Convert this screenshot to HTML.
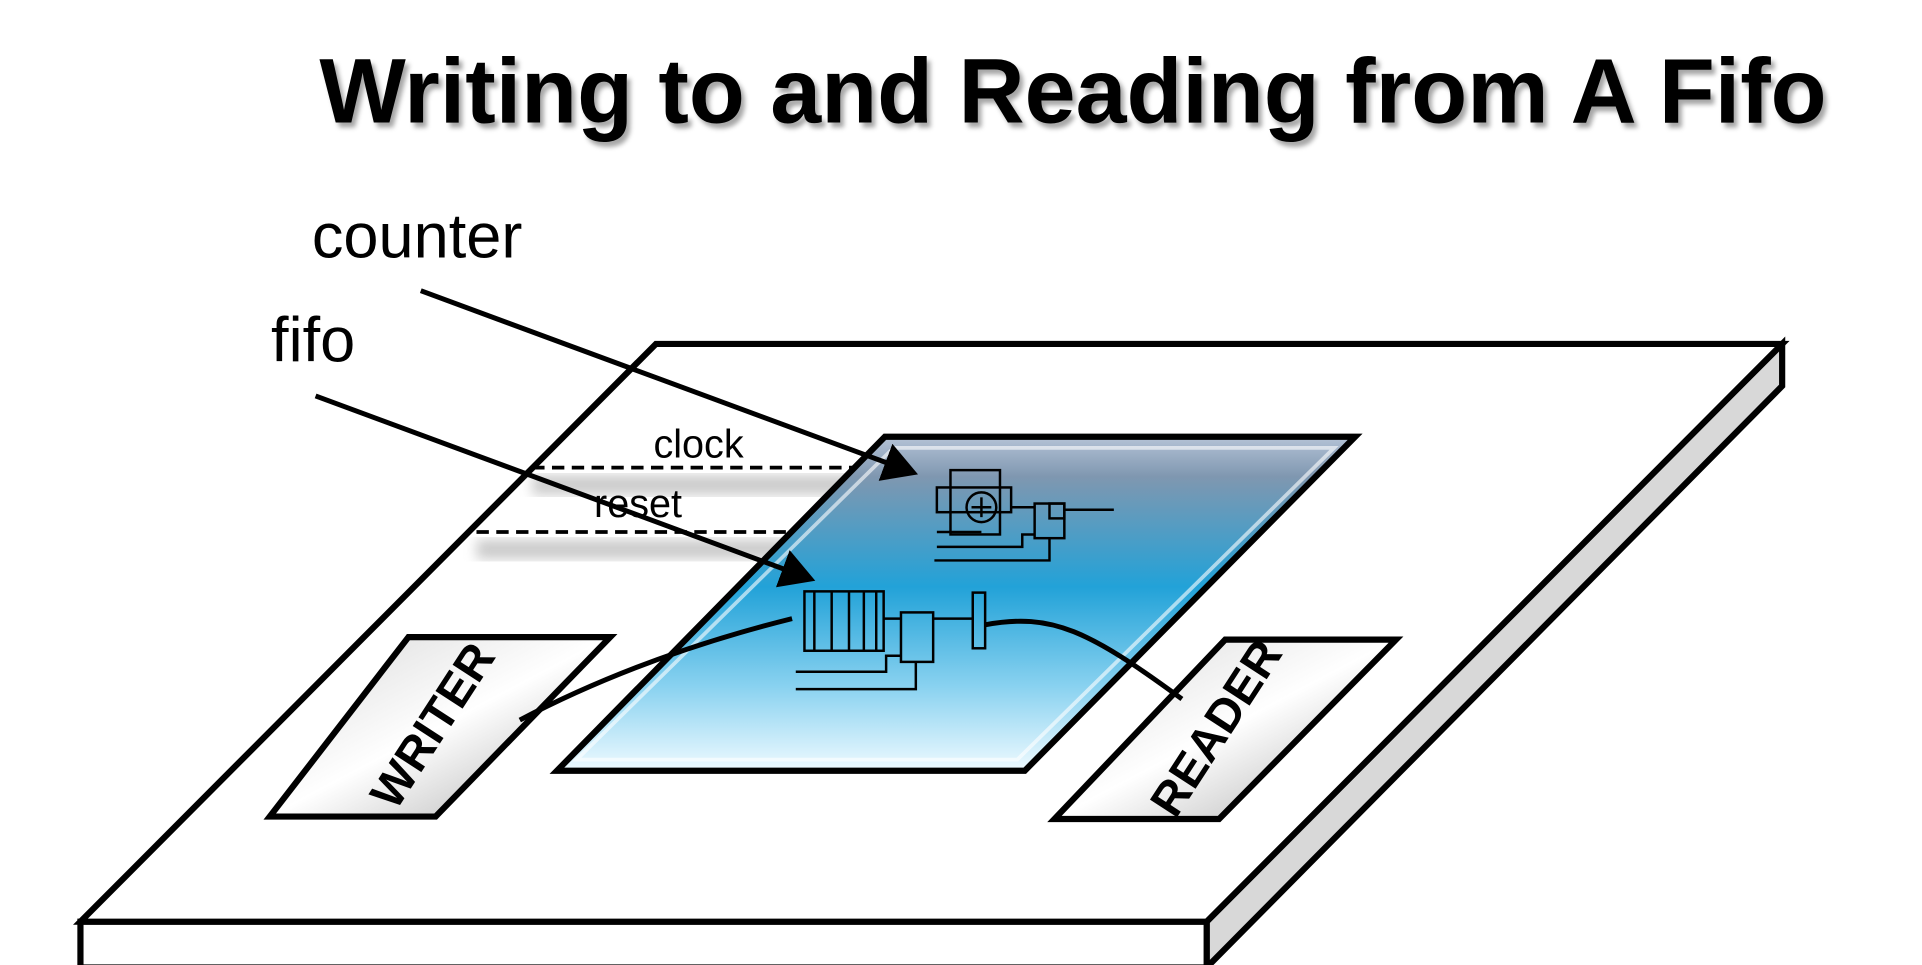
<!DOCTYPE html>
<html><head><meta charset="utf-8"><style>
html,body{margin:0;padding:0;background:#fff;}
svg{display:block;}
text{font-family:"Liberation Sans",Arial,sans-serif;}
</style></head><body>
<svg width="1922" height="965" viewBox="0 0 1553 780" preserveAspectRatio="none" xmlns="http://www.w3.org/2000/svg">
<defs>
<linearGradient id="blue" x1="0" y1="0" x2="0" y2="1">
<stop offset="0" stop-color="#b4c2d6"/>
<stop offset="0.12" stop-color="#7f97b0"/>
<stop offset="0.45" stop-color="#22a2d8"/>
<stop offset="0.75" stop-color="#8ad2f0"/>
<stop offset="1" stop-color="#eefaff"/>
</linearGradient>
<linearGradient id="btn" x1="0" y1="0" x2="1" y2="1">
<stop offset="0" stop-color="#d8d8d8"/>
<stop offset="0.5" stop-color="#ffffff"/>
<stop offset="1" stop-color="#a8a8a8"/>
</linearGradient>
<filter id="blur"><feGaussianBlur stdDeviation="5"/></filter>
<filter id="sh"><feDropShadow dx="3" dy="4" stdDeviation="2" flood-color="#000" flood-opacity="0.35"/></filter>
<marker id="ah" markerWidth="8" markerHeight="8" refX="6" refY="4" orient="auto" markerUnits="strokeWidth"><path d="M0,0 L7,4 L0,8 Z" fill="#000"/></marker>
</defs>
<text x="867" y="99" font-size="74" font-weight="bold" text-anchor="middle" filter="url(#sh)">Writing to and Reading from A Fifo</text>
<text x="252" y="208" font-size="51">counter</text>
<text x="219" y="292" font-size="51">fifo</text>
<!-- board -->
<polygon points="1440,278 1440,312 975,782 975,745" fill="#d8d8d8" stroke="#000" stroke-width="5" stroke-linejoin="miter"/>
<rect x="65" y="745" width="910" height="37" fill="#fff" stroke="#000" stroke-width="5"/>
<polygon points="530,278 1440,278 975,745 65,745" fill="#fff" stroke="#000" stroke-width="5"/>
<!-- shadows of dashes -->
<rect x="430" y="384" width="270" height="16" fill="#999" opacity="0.5" filter="url(#blur)"/>
<rect x="385" y="436" width="255" height="16" fill="#999" opacity="0.5" filter="url(#blur)"/>
<line x1="430" y1="378" x2="700" y2="378" stroke="#000" stroke-width="3" stroke-dasharray="10,6"/>
<line x1="385" y1="430" x2="640" y2="430" stroke="#000" stroke-width="3" stroke-dasharray="10,6"/>
<text x="528" y="370" font-size="32">clock</text>
<text x="480" y="418" font-size="32">reset</text>
<!-- blue panel -->
<polygon points="715,353 1095,353 828,623 450,623" fill="url(#blue)" stroke="#000" stroke-width="5"/>
<polygon points="722,362 1078,362 822,614 466,614" fill="none" stroke="#fff" stroke-width="3" opacity="0.6"/>
<!-- writer / reader -->
<polygon points="330,515 493,515 352,660 218,660" fill="url(#btn)" stroke="#000" stroke-width="5"/>
<polygon points="990,517 1128,517 985,662 852,662" fill="url(#btn)" stroke="#000" stroke-width="5"/>
<text x="352" y="598" font-size="38" font-weight="bold" text-anchor="middle" transform="rotate(-57 352 588)">WRITER</text>
<text x="985" y="600" font-size="38" font-weight="bold" text-anchor="middle" transform="rotate(-57 985 590)">READER</text>
<!-- counter circuit -->
<g fill="none" stroke="#000" stroke-width="2">
<rect x="768" y="380" width="40" height="52"/>
<rect x="757" y="394" width="60" height="20"/>
<circle cx="793" cy="410" r="12"/>
<line x1="793" y1="402" x2="793" y2="418"/><line x1="785" y1="410" x2="801" y2="410"/>
<rect x="836" y="407" width="24" height="28"/>
<rect x="848" y="407" width="12" height="12"/>
<line x1="860" y1="412" x2="900" y2="412"/>
<line x1="817" y1="410" x2="836" y2="410"/>
<line x1="757" y1="430" x2="793" y2="430"/>
<path d="M757,442 L826,442 L826,432 L836,432"/>
<path d="M755,453 L848,453 L848,435"/>
</g>
<!-- fifo circuit -->
<g fill="none" stroke="#000" stroke-width="2">
<rect x="650" y="478" width="64" height="48"/>
<line x1="658" y1="478" x2="658" y2="526"/><line x1="672" y1="478" x2="672" y2="526"/><line x1="686" y1="478" x2="686" y2="526"/><line x1="698" y1="478" x2="698" y2="526"/><line x1="708" y1="478" x2="708" y2="526"/>
<rect x="728" y="495" width="26" height="40"/>
<line x1="714" y1="500" x2="728" y2="500"/>
<line x1="754" y1="500" x2="786" y2="500"/>
<rect x="786" y="479" width="10" height="45"/>
<path d="M643,543 L716,543 L716,530 L728,530"/>
<path d="M643,557 L740,557 L740,535"/>
</g>
<path d="M796,505 C850,495 880,510 955,565" fill="none" stroke="#000" stroke-width="4"/>
<path d="M420,582 C500,540 580,515 640,500" fill="none" stroke="#000" stroke-width="4"/>
<!-- arrows -->
<line x1="340" y1="235" x2="738" y2="382" stroke="#000" stroke-width="4" marker-end="url(#ah)"/>
<line x1="255" y1="320" x2="655" y2="468" stroke="#000" stroke-width="4" marker-end="url(#ah)"/>
</svg>
</body></html>
